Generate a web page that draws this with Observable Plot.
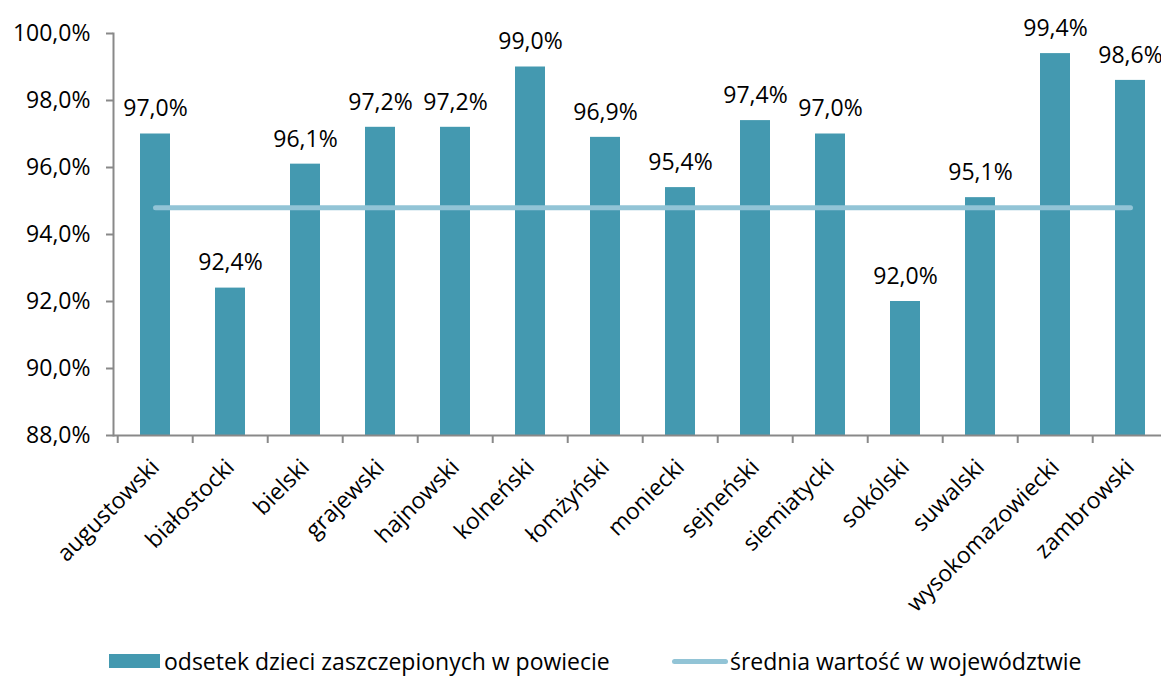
<!DOCTYPE html>
<html>
<head>
<meta charset="utf-8">
<script src="https://cdn.jsdelivr.net/npm/d3@7"></script>
<script src="https://cdn.jsdelivr.net/npm/@observablehq/plot@0.6"></script>
<style>
  html, body { margin: 0; padding: 0; background: #fff; overflow: hidden; width: 1161px; height: 676px; }
  body { font-family: "Open Sans", sans-serif; position: relative; }
  #chart { position: absolute; left: 0; top: 0; width: 1171px; }
  #chart svg { max-width: none !important; }
  .legend { position: absolute; top: 648px; left: 0; width: 1161px; height: 26px; font-size: 23px; line-height: 1; color: #000; }
  .item { position: absolute; top: 0; display: flex; align-items: center; height: 26px; white-space: nowrap; }
  .sw-bar { width: 51px; height: 14px; background: #4499B0; margin-right: 4px; }
  .sw-line { width: 56px; height: 5px; border-radius: 3px; background: #92C4D6; margin-right: 2px; }
</style>
</head>
<body>
<div id="chart"></div>
<div class="legend">
  <div class="item" style="left:109px"><div class="sw-bar"></div><span id="l1"></span></div>
  <div class="item" style="left:672px"><div class="sw-line"></div><span id="l2"></span></div>
</div>
<script>
const districts = ["augustowski","białostocki","bielski","grajewski","hajnowski","kolneński","łomżyński","moniecki","sejneński","siemiatycki","sokólski","suwalski","wysokomazowiecki","zambrowski"];
const values = [97.0, 92.4, 96.1, 97.2, 97.2, 99.0, 96.9, 95.4, 97.4, 97.0, 92.0, 95.1, 99.4, 98.6];
const average = 94.8;
const yTicks = [88, 90, 92, 94, 96, 98, 100];
const seriesNames = ["odsetek dzieci zaszczepionych w powiecie", "średnia wartość w województwie"];

document.getElementById("l1").textContent = seriesNames[0];
document.getElementById("l2").textContent = seriesNames[1];

const data = districts.map((d, i) => ({name: d, value: values[i], avg: average}));
const fmt = v => v.toFixed(1).replace(".", ",") + "%";
const axisColor = "#898989";
const step = 1058 / 14;

const plot = Plot.plot({
  width: 1171,
  height: 640,
  marginTop: 33,
  marginBottom: 205,
  marginLeft: 113,
  marginRight: 0,
  style: {fontFamily: "Open Sans, sans-serif", fontSize: "23px", color: "#000", overflow: "visible", maxWidth: "none"},
  x: {domain: districts, paddingInner: 0.6, paddingOuter: 0.3, label: null, axis: null},
  y: {domain: [88, 100], label: null, axis: null},
  marks: [
    Plot.barY(data, {x: "name", y1: 88, y2: "value", fill: "#4499B0"}),
    Plot.lineY(data, {x: "name", y: "avg", stroke: "#92C4D6", strokeWidth: 5, strokeLinecap: "round"}),
    Plot.text(data, {x: "name", y: "value", text: d => fmt(d.value), dy: -25, fill: "#000", fontSize: 23}),
    Plot.frame({anchor: "left", stroke: axisColor, strokeWidth: 2}),
    Plot.ruleY([88], {stroke: axisColor, strokeWidth: 2}),
    Plot.axisY({ticks: yTicks, tickFormat: fmt, tickSize: 7, tickPadding: 16, stroke: axisColor, strokeWidth: 2, fontSize: 23}),
    Plot.axisX({text: null, tickSize: 8, stroke: axisColor, strokeWidth: 2, dx: -step / 2}),
    Plot.axisX({tickRotate: -45, tickSize: 0, tickPadding: 28, fontSize: 23})
  ]
});
document.getElementById("chart").appendChild(plot);
</script>
</body>
</html>
